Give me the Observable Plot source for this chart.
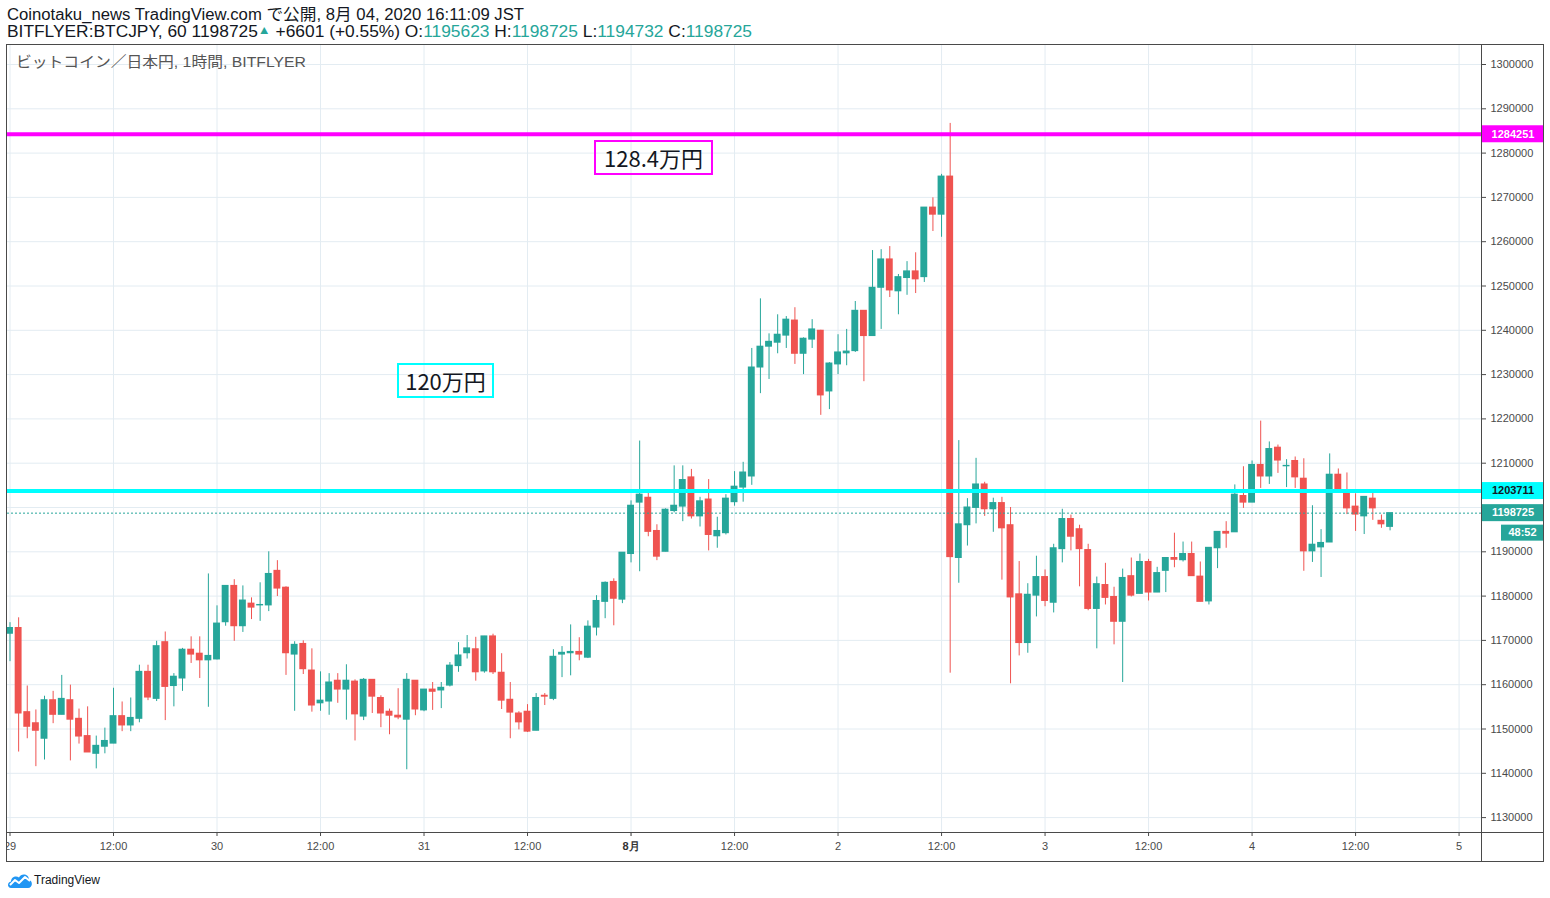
<!DOCTYPE html>
<html><head><meta charset="utf-8">
<script src="https://cdn.jsdelivr.net/npm/d3@7"></script>
<script src="https://cdn.jsdelivr.net/npm/@observablehq/plot@0.6"></script>
<style>
html,body{margin:0;padding:0;background:#fff}
body{width:1550px;height:898px;position:relative;overflow:hidden;font-family:"Liberation Sans",Arial,sans-serif;color:#131722}
#chart{position:absolute;left:0;top:0}
.hdr{position:absolute;left:7px;white-space:nowrap;font-size:16px;line-height:18px;transform-origin:0 0;font-family:"Liberation Sans","Noto Sans CJK JP",sans-serif}
.up{color:#26a69a}
.anno{position:absolute;box-sizing:border-box;font-family:"Noto Sans CJK JP",sans-serif;font-size:22px;color:#131722;line-height:31px;text-align:center;white-space:nowrap}
.ln{position:absolute;background:#4a4a4a}
</style></head><body>
<div id="chart"></div>
<script>
// ---- data (BTC/JPY 1h candles, Jul 29 00:00 – Aug 4 16:00 JST) ----
const startTime = Date.UTC(2020, 6, 29, 0, 0);
const open = [
1171500,1172800,1153800,1151300,1147800,1156500,1153200,1156500,1152300,1148400,1144400,1146000,1146700,1152900,1150800,1152300,1162900,1156800,1169600,1159700,
1161400,1167900,1167000,1165500,1165700,1174100,1182300,1173200,1178300,1177900,1177900,1185700,1181900,1166800,1169200,1163200,1155800,1156200,1160900,1158900,
1160700,1152800,1161100,1157000,1153900,1153000,1152100,1160900,1154200,1158900,1158700,1159800,1164200,1167100,1168000,1163000,1170900,1162700,1156600,1153500,
1153900,1149600,1157500,1156800,1166800,1167100,1167400,1166100,1172900,1178700,1183200,1179200,1189500,1201100,1202200,1194700,1190000,1199200,1200200,1206800,
1198000,1201800,1193500,1194200,1201200,1204500,1207000,1231600,1236300,1237200,1238800,1242200,1234700,1237900,1239900,1226200,1232300,1234800,1235300,1244400,
1238700,1249600,1256000,1248800,1251800,1253300,1252000,1267700,1266100,1274700,1188600,1196000,1199900,1205200,1199600,1201000,1196000,1180400,1169400,1180100,
1184300,1178500,1190600,1197400,1195100,1190400,1177100,1182500,1179800,1174200,1184500,1180500,1187700,1180800,1185700,1188600,1188100,1189500,1184400,1178800,
1190800,1194500,1194400,1202600,1201100,1209600,1207000,1213500,1209300,1210500,1206500,1190100,1191000,1192100,1207400,1203800,1200200,1198000,1202000,1197000,
1195623];
const high = [
1174000,1175100,1159700,1154300,1157400,1158500,1162100,1159900,1154500,1155000,1148400,1150200,1159200,1156100,1157000,1164400,1164400,1169800,1171900,1162500,
1168200,1170800,1170800,1185000,1177800,1182300,1183700,1182300,1179600,1183000,1190000,1188000,1182100,1169700,1169900,1168100,1162900,1162500,1162500,1164500,
1161100,1161400,1161100,1157500,1154500,1159100,1162500,1160900,1158900,1160500,1160500,1165000,1169500,1171100,1170700,1170900,1171400,1167000,1160500,1153900,
1155500,1158000,1158000,1167900,1168600,1173500,1170600,1174400,1180100,1183200,1183900,1189800,1201500,1215000,1203300,1196100,1199700,1209400,1209400,1208600,
1202300,1206300,1197800,1202900,1208100,1210200,1235900,1247100,1239200,1243500,1243100,1245100,1238300,1242400,1240000,1232700,1239000,1240200,1246500,1244400,
1258000,1258200,1258900,1252600,1255500,1257500,1267700,1269900,1275200,1286700,1215100,1202000,1211100,1205700,1202100,1202300,1200000,1187800,1182800,1189000,
1185900,1191700,1199600,1198300,1196000,1191700,1184300,1187400,1182000,1186100,1188600,1189500,1188300,1186500,1188600,1194200,1192200,1192200,1187700,1190900,
1194500,1196800,1205100,1209200,1210500,1219500,1214800,1214100,1210800,1211400,1211000,1200400,1195000,1212100,1208700,1207800,1203100,1202400,1203300,1198300,
1198725];
const low = [
1165200,1144800,1147800,1141500,1143000,1151200,1153200,1142800,1146600,1144700,1141000,1144400,1146700,1149400,1149400,1151400,1156400,1156200,1151900,1155000,
1158500,1164800,1161400,1154900,1165600,1173200,1169800,1171800,1174700,1174300,1176500,1179900,1162100,1154000,1162300,1153800,1154000,1153100,1155800,1152000,
1147300,1151900,1153500,1150300,1148700,1152100,1140800,1153000,1153900,1154200,1154600,1159500,1162800,1165800,1160800,1162600,1162300,1154400,1147800,1149800,
1149200,1149600,1155300,1156400,1161600,1162000,1165400,1165900,1171000,1174900,1173300,1178300,1187500,1185500,1193400,1188000,1190000,1198800,1196800,1197400,
1195600,1190200,1190800,1193800,1200300,1201200,1205000,1225700,1228900,1234700,1235900,1232300,1230000,1235900,1220800,1222100,1230000,1232000,1235000,1228400,
1238700,1240200,1247400,1243500,1247900,1248300,1250800,1262300,1261000,1162600,1182900,1191300,1196300,1198000,1194400,1183600,1160200,1166500,1167100,1175300,
1177600,1176200,1187500,1190200,1182100,1176700,1168100,1178000,1169000,1160500,1179800,1180500,1178900,1180800,1180800,1186400,1187700,1184500,1178700,1178000,
1186200,1190800,1194400,1199800,1201100,1204300,1205200,1207700,1204500,1204300,1185600,1187600,1184200,1192100,1203800,1198400,1194600,1193900,1197100,1195300,
1194732];
const close = [
1172800,1153500,1150500,1149600,1156500,1153200,1156800,1152100,1148300,1144700,1146200,1147300,1152900,1150800,1152500,1162900,1157100,1168700,1159500,1161800,
1167900,1166800,1165500,1166500,1173800,1182300,1173200,1179000,1177400,1178000,1185000,1181700,1167100,1169000,1163500,1155300,1156400,1160500,1158900,1160900,
1153300,1161100,1157300,1153500,1153000,1152600,1161100,1154400,1158900,1158400,1159300,1164300,1166600,1168200,1162800,1170900,1162800,1156400,1153700,1151500,
1149400,1157000,1157300,1166300,1167200,1167400,1166800,1173100,1178900,1183000,1179400,1189800,1200400,1202900,1194500,1188900,1199500,1200400,1206200,1198000,
1201400,1193800,1194700,1202000,1204700,1207900,1231600,1236300,1237400,1239000,1242400,1234700,1238100,1240200,1225300,1232500,1235000,1235200,1244400,1238700,
1249600,1256000,1249000,1252000,1253300,1251500,1267700,1266100,1274700,1188800,1196200,1200000,1205200,1199600,1201000,1195300,1179700,1169400,1180300,1184300,
1178900,1190800,1197400,1193400,1190600,1177100,1182700,1179600,1174200,1184100,1180100,1187700,1180800,1185200,1188600,1188200,1189500,1184500,1178700,1190900,
1194500,1194100,1202900,1201100,1209600,1207000,1213200,1210600,1209400,1206800,1190100,1191600,1192000,1207400,1203800,1199800,1198400,1202400,1199800,1196200,
1198725];
const resistance = 1284251;   // magenta line
const support = 1203711;      // cyan line
const lastClose = close[close.length - 1];
const yTicks = d3.range(1130000, 1300001, 10000);
const xTicks = d3.utcHour.every(12).range(Date.UTC(2020, 6, 29, 0), Date.UTC(2020, 7, 5, 1));
const countdown = "48:52";

// ---- build ----
const UP = "#26a69a", DOWN = "#ef5350";
const candles = open.map((o, i) => ({t: new Date(startTime + i * 3600e3), o, h: high[i], l: low[i], c: close[i]}));
const col = d => d.c >= d.o ? UP : DOWN;
const fmtX = d => d.getUTCHours() === 12 ? "12:00" : (d.getUTCDate() === 1 ? "8月" : String(d.getUTCDate()));
const isAug1 = d => d.getUTCDate() === 1 && d.getUTCMonth() === 7 && d.getUTCHours() === 0;
// tick labels hidden behind a price tag (as on the reference)
const tagPrices = [resistance, support, lastClose];
const yLabelTicks = yTicks.filter(v => tagPrices.every(p => Math.abs(v - p) > 3000));

function tag(price, fill, textColor, label, sub) {
  return (index, scales, values, dims) => {
    const y = scales.y(price);
    const x0 = dims.width - dims.marginRight;
    const g = d3.create("svg:g");
    g.append("rect").attr("x", x0 + 1).attr("y", y - 8.5).attr("width", 62).attr("height", 17).attr("fill", fill);
    g.append("text").attr("x", x0 + 32).attr("y", y).attr("dy", "0.35em").attr("text-anchor", "middle")
      .attr("fill", textColor).attr("font-weight", "bold").attr("font-size", 11).text(label);
    if (sub) {
      g.append("rect").attr("x", x0 + 20).attr("y", y + 12).attr("width", 43).attr("height", 16).attr("fill", fill);
      g.append("text").attr("x", x0 + 41.5).attr("y", y + 20).attr("dy", "0.35em").attr("text-anchor", "middle")
        .attr("fill", textColor).attr("font-weight", "bold").attr("font-size", 11).text(sub);
    }
    return g.node();
  };
}

const chart = Plot.plot({
  width: 1550, height: 898,
  marginTop: 44, marginBottom: 66, marginLeft: 7, marginRight: 69,
  style: {fontFamily: '"Liberation Sans", Arial, sans-serif', fontSize: "11px", background: "transparent", overflow: "visible"},
  x: {type: "utc", domain: [new Date(startTime - 0.29 * 3600e3), new Date(startTime + 170.6 * 3600e3)]},
  y: {domain: [1126637, 1304515]},
  marks: [
    Plot.gridX(xTicks, {stroke: "#e3ecf2", strokeOpacity: 1}),
    Plot.gridY(yTicks, {stroke: "#e3ecf2", strokeOpacity: 1}),
    Plot.ruleX(candles, {x: "t", y1: "l", y2: "h", stroke: col, strokeWidth: 1}),
    Plot.rect(candles, {x1: d => new Date(+d.t - 24 * 60e3), x2: d => new Date(+d.t + 24 * 60e3), y1: "o", y2: "c", fill: col, insetTop: -0.5, insetBottom: -0.5}),
    Plot.ruleY([lastClose], {stroke: UP, strokeDasharray: "2,2", strokeWidth: 1}),
    Plot.ruleY([resistance], {stroke: "#ff00ff", strokeWidth: 4}),
    Plot.ruleY([support], {stroke: "#00ffff", strokeWidth: 4}),
    Plot.axisY(yTicks, {anchor: "right", tickSize: 4, tickPadding: 5, text: null, color: "#4a4a4a", label: null}),
    Plot.axisY(yLabelTicks, {anchor: "right", tickSize: 0, tickPadding: 9, tickFormat: d => String(d), fontSize: 11, color: "#4a4a4a", label: null}),
    Plot.axisX(xTicks.filter(d => !isAug1(d)), {anchor: "bottom", tickSize: 4, tickPadding: 6, tickFormat: fmtX, fontSize: 11, color: "#4a4a4a", label: null}),
    Plot.axisX(xTicks.filter(isAug1), {anchor: "bottom", tickSize: 4, tickPadding: 6, tickFormat: fmtX, fontSize: 11, fontWeight: "bold", color: "#333", label: null}),
    tag(resistance, "#ff00ff", "#ffffff", String(resistance)),
    tag(support, "#00ffff", "#131722", String(support)),
    tag(lastClose, UP, "#ffffff", String(lastClose), countdown)
  ]
});
document.getElementById("chart").append(chart);
</script>
<div style="position:absolute;left:0;top:833px;width:6px;height:28px;background:#fff"></div>
<div style="position:absolute;left:6px;top:44px;width:1538px;height:818px;box-sizing:border-box;border:1px solid #4a4a4a"></div>
<div class="ln" style="left:6px;top:832px;width:1538px;height:1px"></div>
<div class="ln" style="left:1481px;top:44px;width:1px;height:818px"></div>

<div class="hdr" id="l1" style="top:6px">Coinotaku_news TradingView.com で公開, 8月 04, 2020 16:11:09 JST</div>
<div class="hdr" id="l2" style="top:23px">BITFLYER:BTCJPY, 60 <span id="v0"></span><span class="up" style="font-size:12px;position:relative;top:-3px">▲</span> +6601 (+0.55%) O:<span class="up" id="vo"></span> H:<span class="up" id="vh"></span> L:<span class="up" id="vl"></span> C:<span class="up" id="vc"></span></div>
<div class="hdr" id="l3" style="left:16px;top:53px;color:#555;font-size:15px">ビットコイン／日本円, 1時間, BITFLYER</div>

<div class="anno" style="left:594px;top:140px;width:119px;height:35px;border:2px solid #ff00ff">128.4万円</div>
<div class="anno" style="left:397px;top:363px;width:97px;height:35px;border:2px solid #00ffff">120万円</div>

<svg style="position:absolute;left:7px;top:872px" width="26" height="17" viewBox="0 0 26 17">
  <path d="M4 16 C0 16 0 10 4 9.5 C4 5 9 3 12 5.5 C14 1 22 1.5 22 8 C26 8.5 26 16 21 16 Z" fill="#2196f3"/>
  <polyline points="3,13 8,8 12,11 18,5 23,9" fill="none" stroke="#fff" stroke-width="2" stroke-linejoin="round"/>
</svg>
<div style="position:absolute;left:34px;top:872px;font-size:12px;line-height:16px;color:#131722">TradingView</div>

<script>
{
  const n = close.length - 1;
  document.getElementById("v0").textContent = String(close[n]);
  document.getElementById("vo").textContent = String(open[n]);
  document.getElementById("vh").textContent = String(high[n]);
  document.getElementById("vl").textContent = String(low[n]);
  document.getElementById("vc").textContent = String(close[n]);
  const fit = (id, target) => {
    const el = document.getElementById(id);
    const w = el.getBoundingClientRect().width;
    if (w > 0) el.style.transform = `scaleX(${target / w})`;
  };
  fit("l1", 517); fit("l2", 745); fit("l3", 290);
}
</script>
</body></html>
